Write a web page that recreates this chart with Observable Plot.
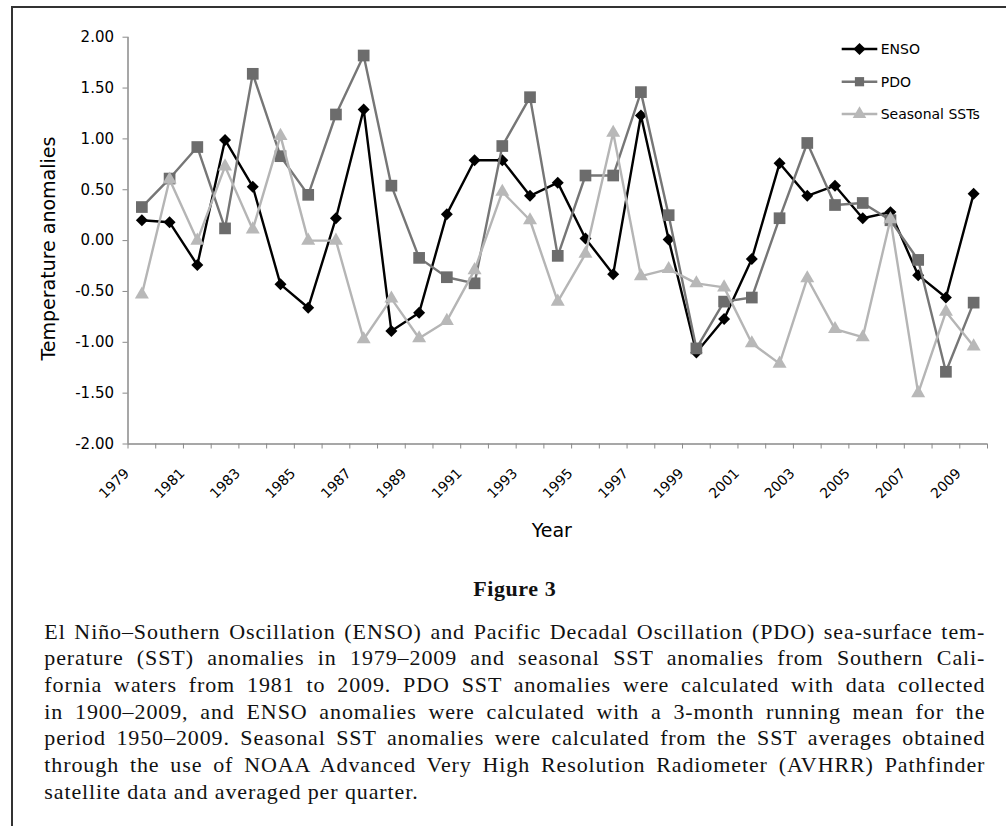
<!DOCTYPE html>
<html>
<head>
<meta charset="utf-8">
<script src="https://cdn.jsdelivr.net/npm/d3@7"></script>
<script src="https://cdn.jsdelivr.net/npm/@observablehq/plot@0.6"></script>
<style>
html, body { margin: 0; padding: 0; background: #fff; }
#wrap { position: relative; width: 1006px; height: 826px; overflow: hidden; background: #fff; }
#frame { position: absolute; left: 10.5px; top: 5.8px; width: 1100px; height: 900px; border-left: 2.5px solid #333; border-top: 2px solid #333; box-sizing: border-box; }
#chart { position: absolute; left: 0; top: 0; }
#legend { position: absolute; left: 0; top: 0; }
.serif { position: absolute; left: 44.3px; width: 941px; font-family: "Liberation Serif", serif; color: #111; }
#figtitle { top: 576px; font-size: 22px; line-height: 26.7px; font-weight: bold; text-align: center; letter-spacing: 0.6px; }
#caption { top: 618.5px; font-size: 22px; line-height: 26.7px; letter-spacing: 0.9px; }
#caption div { white-space: nowrap; text-align: justify; text-align-last: justify; }
</style>
</head>
<body>
<div id="wrap">
  <div id="frame"></div>
  <div id="chart"></div>
  <div id="legend"></div>
  <div id="figtitle" class="serif">Figure 3</div>
  <div id="caption" class="serif"></div>
</div>
<script>
// ---- data ----
const years = [1979, 1980, 1981, 1982, 1983, 1984, 1985, 1986, 1987, 1988,
               1989, 1990, 1991, 1992, 1993, 1994, 1995, 1996, 1997, 1998,
               1999, 2000, 2001, 2002, 2003, 2004, 2005, 2006, 2007, 2008, 2009];
const enso = [0.20, 0.18, -0.24, 0.99, 0.53, -0.43, -0.66, 0.22, 1.29, -0.89,
              -0.71, 0.26, 0.79, 0.79, 0.44, 0.57, 0.02, -0.33, 1.23, 0.01,
              -1.10, -0.77, -0.18, 0.76, 0.44, 0.54, 0.22, 0.28, -0.34, -0.56, 0.46];
const pdo = [0.33, 0.61, 0.92, 0.12, 1.64, 0.83, 0.45, 1.24, 1.82, 0.54,
             -0.17, -0.36, -0.42, 0.93, 1.41, -0.15, 0.64, 0.64, 1.46, 0.25,
             -1.06, -0.60, -0.56, 0.22, 0.96, 0.35, 0.37, 0.20, -0.19, -1.29, -0.61];
const sst = [-0.53, 0.60, 0.00, 0.73, 0.11, 1.03, 0.00, 0.00, -0.97, -0.57,
             -0.96, -0.79, -0.29, 0.48, 0.20, -0.60, -0.13, 1.06, -0.35, -0.28,
             -0.42, -0.46, -1.01, -1.21, -0.37, -0.87, -0.95, 0.21, -1.50, -0.70, -1.04];
const seriesNames = ["ENSO", "PDO", "Seasonal SSTs"];
const yTicks = [-2.0, -1.5, -1.0, -0.5, 0.0, 0.5, 1.0, 1.5, 2.0];
const xLabelYears = years.filter((d, i) => i % 2 === 0);
const captionLines = [
  "El Niño–Southern Oscillation (ENSO) and Pacific Decadal Oscillation (PDO) sea-surface tem-",
  "perature (SST) anomalies in 1979–2009 and seasonal SST anomalies from Southern Cali-",
  "fornia waters from 1981 to 2009. PDO SST anomalies were calculated with data collected",
  "in 1900–2009, and ENSO anomalies were calculated with a 3-month running mean for the",
  "period 1950–2009. Seasonal SST anomalies were calculated from the SST averages obtained",
  "through the use of NOAA Advanced Very High Resolution Radiometer (AVHRR) Pathfinder",
  "satellite data and averaged per quarter."
];

// ---- styles ----
const seriesValues = [enso, pdo, sst];
const seriesStyle = [
  {line: "#000000", fill: "#000000", symbol: "diamond2", r: 5.4, d3sym: d3.symbolDiamond2, lsize: 95},
  {line: "#767676", fill: "#6c6c6c", symbol: "square", r: 6.6, d3sym: d3.symbolSquare, lsize: 85},
  {line: "#b5b5b5", fill: "#b8b8b8", symbol: "triangle", r: 5.2, d3sym: d3.symbolTriangle, lsize: 80}
];

const bounds = [...years.map(y => y - 0.5), years[years.length - 1] + 0.5];
const series = seriesNames.map((name, k) => years.map((year, i) => ({year, value: seriesValues[k][i], name})));

const marks = [
  Plot.ruleX([bounds[0]], {stroke: "#8a8a8a", strokeWidth: 1.5}),
  Plot.ruleY([yTicks[0]], {stroke: "#8a8a8a", strokeWidth: 1.5}),
  Plot.axisY({ticks: yTicks, tickFormat: d => d.toFixed(2), tickSize: 5, tickPadding: 9,
              stroke: "#8a8a8a", fill: "#000", fontSize: 15, label: null}),
  Plot.axisX({ticks: bounds, tickFormat: () => "", tickSize: 5, stroke: "#8a8a8a", label: null}),
  Plot.axisX({ticks: xLabelYears, tickFormat: d => String(d), tickSize: 0, tickPadding: 27,
              tickRotate: -45, dx: -15, fill: "#000", fontSize: 14, label: null}),
  Plot.text(["Temperature anomalies"], {text: d => d, frameAnchor: "left", textAnchor: "middle", lineAnchor: "middle",
              rotate: -90, dx: -79.5, dy: 8, fontSize: 19, fill: "#000"}),
  Plot.text(["Year"], {text: d => d, frameAnchor: "bottom", textAnchor: "middle", lineAnchor: "middle",
              dx: -6, dy: 86.5, fontSize: 19, fill: "#000"})
];
series.forEach((rows, k) => {
  const s = seriesStyle[k];
  marks.push(Plot.line(rows, {x: "year", y: "value", stroke: s.line, strokeWidth: 2.4}));
  marks.push(Plot.dot(rows, {x: "year", y: "value", symbol: () => s.symbol, r: s.r, fill: s.fill, stroke: "none"}));
});

const chart = Plot.plot({
  width: 1006, height: 560,
  marginLeft: 127.5, marginRight: 19, marginTop: 36.7, marginBottom: 116.5,
  x: {type: "linear", domain: [bounds[0], bounds[bounds.length - 1]]},
  y: {domain: [yTicks[0], yTicks[yTicks.length - 1]]},
  symbol: {type: "identity"},
  style: {fontFamily: "DejaVu Sans", fontSize: "15px", color: "#000", background: "transparent", overflow: "visible"},
  marks
});
document.getElementById("chart").appendChild(chart);

// ---- legend (overlay) ----
const rowY = [49, 81.7, 114];
const lg = d3.select("#legend").append("svg").attr("width", 1006).attr("height", 140)
  .style("font-family", "DejaVu Sans").style("font-size", "14px");
seriesNames.forEach((name, k) => {
  const s = seriesStyle[k];
  const g = lg.append("g").attr("transform", `translate(0,${rowY[k]})`);
  g.append("line").attr("x1", 841.7).attr("x2", 877.3).attr("y1", 0).attr("y2", 0)
    .attr("stroke", s.line).attr("stroke-width", 2.4);
  g.append("path").attr("transform", "translate(859.5,0)")
    .attr("d", d3.symbol(s.d3sym, s.lsize)()).attr("fill", s.fill);
  g.append("text").attr("x", 880.7).attr("y", 0).attr("dy", "0.36em").attr("fill", "#000").text(name);
});

// ---- caption ----
const cap = document.getElementById("caption");
captionLines.forEach((t, i) => {
  const div = document.createElement("div");
  div.textContent = t;
  if (i === captionLines.length - 1) div.style.textAlignLast = "left";
  cap.appendChild(div);
});
</script>
</body>
</html>
